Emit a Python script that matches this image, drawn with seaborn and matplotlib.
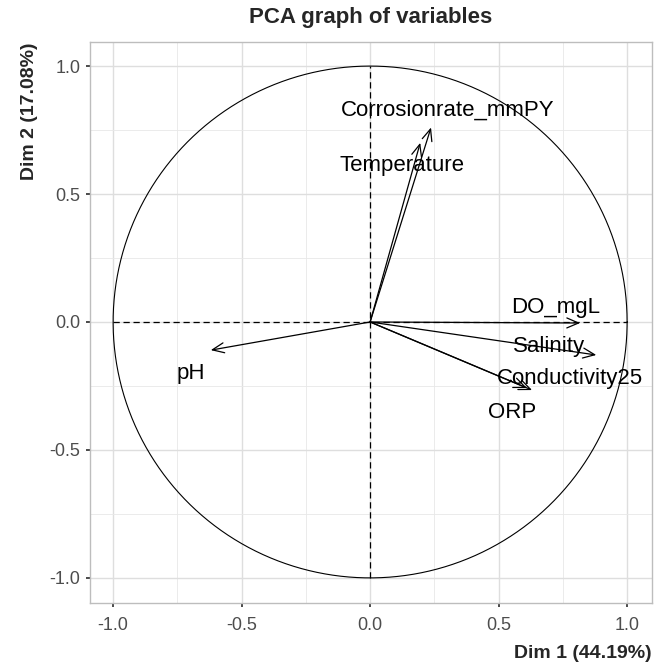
import numpy as np
import pandas as pd
import matplotlib
matplotlib.use("Agg")
import matplotlib.pyplot as plt
import seaborn as sns

variables = ["Corrosionrate_mmPY", "Temperature", "DO_mgL", "Salinity",
             "Conductivity25", "ORP", "pH"]
dim1 = [0.237, 0.195, 0.817, 0.880, 0.630, 0.610, -0.620]
dim2 = [0.760, 0.700, -0.004, -0.129, -0.266, -0.258, -0.110]
label_x = [0.303, 0.125, 0.720, 0.697, 0.778, 0.553, -0.697]
label_y = [0.828, 0.613, 0.055, -0.094, -0.219, -0.352, -0.200]
ticks = [-1.0, -0.5, 0.0, 0.5, 1.0]
tick_labels = ["-1.0", "-0.5", "0.0", "0.5", "1.0"]
title = "PCA graph of variables"
xlabel = "Dim 1 (44.19%)"
ylabel = "Dim 2 (17.08%)"

sns.set_theme(style="whitegrid")
plt.rcParams['font.family'] = ['Liberation Sans', 'DejaVu Sans']

fig = plt.figure(figsize=(6.54, 6.67), dpi=100)
ax = fig.add_axes([0.1376, 0.096, 0.8594, 0.841])

# unit circle
theta = np.linspace(0, 2 * np.pi, 400)
circ = pd.DataFrame({"x": np.cos(theta), "y": np.sin(theta)})
sns.lineplot(data=circ, x="x", y="y", sort=False, estimator=None,
             errorbar=None, color="black", lw=0.8, ax=ax)

ax.plot([-1, 1], [0, 0], color="black", ls=(0, (5, 3)), lw=0.9)
ax.plot([0, 0], [-1, 1], color="black", ls=(0, (5, 3)), lw=0.9)

df = pd.DataFrame({"var": variables, "x": dim1, "y": dim2,
                   "lx": label_x, "ly": label_y})
for _, r in df.iterrows():
    ax.annotate("", xy=(r.x, r.y), xytext=(0, 0),
                arrowprops=dict(arrowstyle="->,head_length=0.7,head_width=0.3",
                                color="black", lw=0.9, shrinkA=0, shrinkB=0))
    ax.text(r.lx, r.ly, r["var"], ha="center", va="center", fontsize=16,
            color="black")

ax.set_xlim(-1.09, 1.097)
ax.set_ylim(-1.098, 1.094)
ax.set_xticks(ticks)
ax.set_xticklabels(tick_labels)
ax.set_yticks(ticks)
ax.set_yticklabels(tick_labels)
ax.set_xticks([-0.75, -0.25, 0.25, 0.75], minor=True)
ax.set_yticks([-0.75, -0.25, 0.25, 0.75], minor=True)
ax.grid(True, which="major", color="#DEDEDE", lw=1.0)
ax.grid(True, which="minor", color="#E8E8E8", lw=0.6)
ax.tick_params(axis="x", which="major", pad=7)
ax.tick_params(axis="y", which="major", pad=4)
ax.tick_params(axis="both", which="major", labelsize=13, labelcolor="#4D4D4D",
               length=3, color="#333333", bottom=True, left=True)
ax.tick_params(which="minor", length=0)
for s in ax.spines.values():
    s.set_edgecolor("#BDBDBD")
    s.set_linewidth(1.0)
ax.set_facecolor("white")

ax.set_xlabel(xlabel, fontsize=14, fontweight="bold", loc="right", labelpad=8)
ax.set_ylabel(ylabel, fontsize=14, fontweight="bold", loc="top", labelpad=8)
ax.set_title(title, fontsize=16, fontweight="bold", pad=14)

fig.savefig("out.png", dpi=100)
